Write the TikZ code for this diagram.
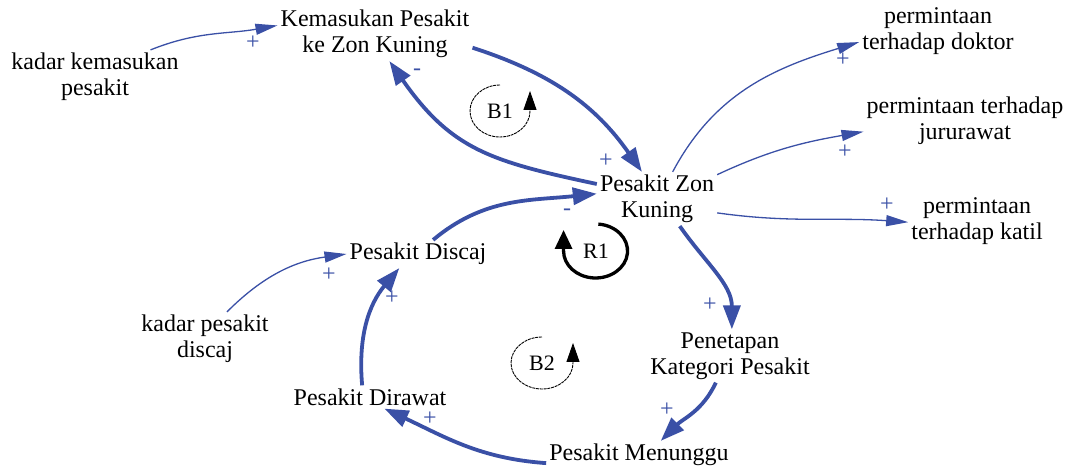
\documentclass[tikz,border=0pt]{standalone}
\usepackage{fontspec}
\setmainfont{Liberation Serif}
\usetikzlibrary{arrows.meta}
\definecolor{cldblue}{RGB}{58,80,166}
\begin{document}
\begin{tikzpicture}[x=1pt,y=1pt,
  var/.style={align=center,inner sep=3pt,font=\fontsize{24}{26}\selectfont,text=black},
  strong/.style={draw=cldblue,line width=3.8pt,-{Triangle[length=24pt,width=17pt]}},
  weak/.style={draw=cldblue,line width=1.3pt,-{Triangle[length=22pt,width=11pt]}},
  pol/.style={text=cldblue,font=\fontsize{24}{24}\selectfont,inner sep=0pt},
  loopthin/.style={draw=black,line width=0.9pt,dash pattern=on 3pt off 0.8pt,-{Triangle[length=19pt,width=13pt]}},
  loopthick/.style={draw=black,line width=3.3pt,-{Triangle[length=19pt,width=17pt]}},
  looplabel/.style={font=\fontsize{22}{26}\selectfont,inner sep=0pt}
]
\useasboundingbox (0,0) rectangle (1065,470);

% variables
\node[var] (kem)  at (375,436) {Kemasukan Pesakit\\ke Zon Kuning};
\node[var] (kkp)  at (95,393)  {kadar kemasukan\\pesakit};
\node[var] (pzk)  at (657,271) {Pesakit Zon\\Kuning};
\node[var] (pdok) at (938,439) {permintaan\\terhadap doktor};
\node[var] (pjur) at (965,349) {permintaan terhadap\\jururawat};
\node[var] (pkat) at (977,249) {permintaan\\terhadap katil};
\node[var] (pdis) at (418,216) {Pesakit Discaj};
\node[var] (kpd)  at (205,131) {kadar pesakit\\discaj};
\node[var] (pen)  at (730,114) {Penetapan\\Kategori Pesakit};
\node[var] (pdir) at (370,73)  {Pesakit Dirawat};
\node[var] (pmen) at (639,15)  {Pesakit Menunggu};

% links
\draw[weak]   (kkp.26)   to[out=22,in=190]  (kem.175);
\draw[strong] (kem.-8)   to[out=-18,in=125] (pzk.119);
\draw[strong] (pzk.166)  to[out=168,in=-55,looseness=1.15] (kem.-62);
\draw[strong] (pdis.43)  to[out=40,in=186]  (pzk.175);
\draw[weak]   (pzk.60)   to[out=62,in=197]  (pdok.188);
\draw[weak]   (pzk.22)   to[out=25,in=190]  (pjur.186);
\draw[weak]   (pzk.-13)  to[out=-8,in=176]  (pkat.181);
\draw[strong] (pzk.-50)  to[out=-55,in=90]  (pen.86);
\draw[strong] (pen.-118) to[out=-115,in=45] (pmen.33);
\draw[strong] (pmen.185) to[out=176,in=-25] (pdir.-39);
\draw[strong] (pdir.124) to[out=95,in=-130] (pdis.217);
\draw[weak]   (kpd.51)   to[out=45,in=188]  (pdis.180);

% polarities
\node[pol] (s1)  at (253,427) {+};
\node[pol] (s2)  at (606,309) {+};
\node[pol] (s3)  at (417,398) {-};
\node[pol] (s4)  at (567,258) {-};
\node[pol] (s5)  at (843,410) {+};
\node[pol] (s6)  at (845,318) {+};
\node[pol] (s7)  at (887,265) {+};
\node[pol] (s8)  at (710,165) {+};
\node[pol] (s9)  at (667,60)  {+};
\node[pol] (s10) at (430,51)  {+};
\node[pol] (s11) at (392,172) {+};
\node[pol] (s12) at (329,195) {+};

% loop markers
\node[looplabel] (b1) at (500,359) {B1};
\node[looplabel] (r1) at (596,219) {R1};
\node[looplabel] (b2) at (542,107) {B2};
\draw[loopthin]  ([shift={(90:26)}]b1.center) arc[start angle=90,end angle=360,x radius=30,y radius=26] -- ++(0,20);
\draw[loopthick] ([shift={(85:27)}]r1.center) arc[start angle=85,end angle=-180,x radius=32,y radius=27] -- ++(0,21);
\draw[loopthin]  ([shift={(90:26)}]b2.center) arc[start angle=90,end angle=360,x radius=31,y radius=26] -- ++(0,20);
\end{tikzpicture}
\end{document}
